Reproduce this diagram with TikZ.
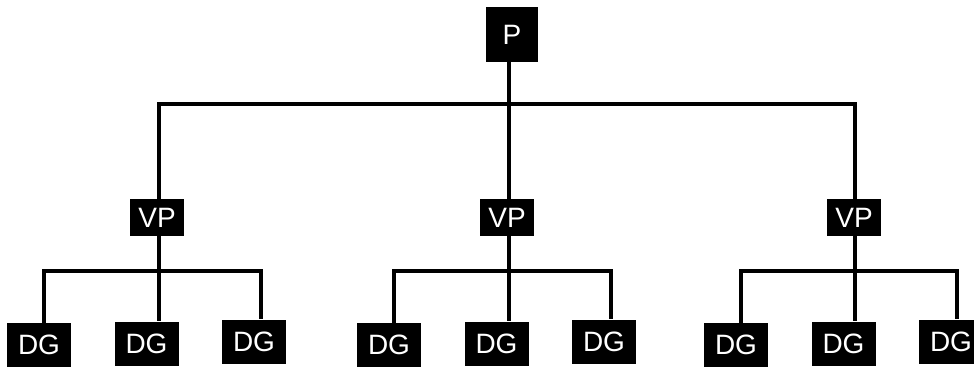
\documentclass[tikz,border=0pt]{standalone}
\usepackage{fontspec}
\setmainfont{Liberation Sans}
\begin{document}
\begin{tikzpicture}[x=1pt,y=-1pt,
  box/.style={fill=black,text=white,inner sep=0pt,font=\fontsize{28}{28}\selectfont},
  pbox/.style={box,minimum width=52pt,minimum height=55pt},
  vpbox/.style={box,minimum width=54pt,minimum height=37pt},
  dgbox/.style={box,minimum width=64pt,minimum height=44pt},
  conn/.style={line width=4.6pt,line join=miter}]
\useasboundingbox (0,0) rectangle (974,367);
% nodes
\node[pbox] (P) at (512,34.5) {P};
\node[vpbox] (VP1) at (157,217.5) {VP};
\node[vpbox] (VP2) at (507,217.5) {VP};
\node[vpbox] (VP3) at (854,217.5) {VP};
\node[dgbox] (DG11) at (39,345) {DG};
\node[dgbox] (DG12) at (146.5,343.5) {DG};
\node[dgbox] (DG13) at (254,341.5) {DG};
\node[dgbox] (DG21) at (389,345) {DG};
\node[dgbox] (DG22) at (496.5,343.5) {DG};
\node[dgbox] (DG23) at (604,341.5) {DG};
\node[dgbox] (DG31) at (736,345) {DG};
\node[dgbox] (DG32) at (843.5,343.5) {DG};
\node[dgbox] (DG33) at (951,341.5) {DG};
% bus coordinates
\coordinate (b0) at (509,104);
\coordinate (b1) at (159,271);
\coordinate (b2) at (509,271);
\coordinate (b3) at (855,271);
\coordinate (x11) at (44,0);
\coordinate (x13) at (261,0);
\coordinate (x21) at (394,0);
\coordinate (x23) at (611,0);
\coordinate (x31) at (741,0);
\coordinate (x33) at (957,0);
% connectors
\draw[conn] (P.south -| b0) -- (b0);
\draw[conn] (VP1.north -| b1) |- (b0) -| (VP3.north -| b3);
\draw[conn] (b0) -- (VP2.north -| b2);
\draw[conn] (VP1.south -| b1) -- (b1);
\draw[conn] (VP2.south -| b2) -- (b2);
\draw[conn] (VP3.south -| b3) -- (b3);
\draw[conn] (x11 |- DG11.north) |- (b1) -| (x13 |- DG13.north);
\draw[conn] (b1) -- (DG12.north -| b1);
\draw[conn] (x21 |- DG21.north) |- (b2) -| (x23 |- DG23.north);
\draw[conn] (b2) -- (DG22.north -| b2);
\draw[conn] (x31 |- DG31.north) |- (b3) -| (x33 |- DG33.north);
\draw[conn] (b3) -- (DG32.north -| b3);
\end{tikzpicture}
\end{document}
